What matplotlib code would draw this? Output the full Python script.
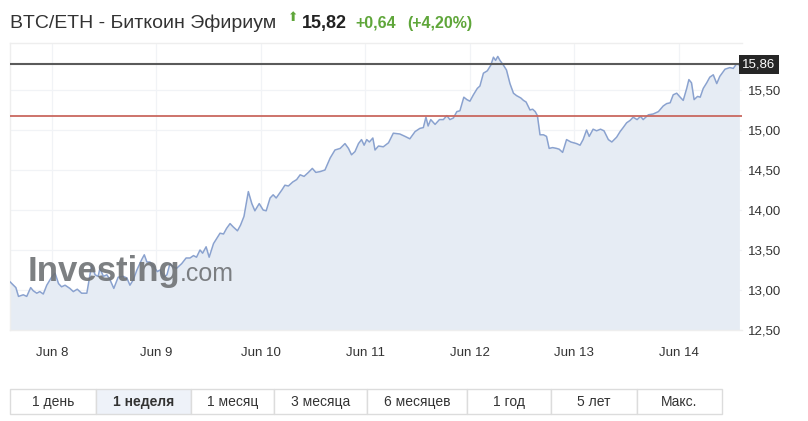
import numpy as np
import matplotlib
matplotlib.use("Agg")
import matplotlib.pyplot as plt
from matplotlib.patches import Rectangle
from matplotlib.transforms import blended_transform_factory

plt.rcParams['font.family'] = ['Liberation Sans', 'DejaVu Sans']

# hours since Jun 8 00:00 and BTC/ETH price
hours = [-9.6, -8.3, -7.7, -6.6, -5.8, -4.9, -4.3, -3.5, -2.8, -2.0,
         -1.2, -0.1, 0.7, 1.5, 2.2, 3.0, 4.1, 4.9, 5.8, 6.8,
         8.0, 9.1, 9.9, 10.6, 11.0, 11.8, 12.6, 13.3, 14.2, 15.2,
         16.4, 17.2, 17.9, 18.7, 19.5, 20.6, 21.2, 21.8, 22.5, 23.4,
         24.2, 24.8, 25.7, 26.4, 27.1, 27.9, 28.6, 29.8, 30.8, 31.7,
         32.5, 33.2, 34.0, 34.6, 35.4, 36.1, 37.1, 38.6, 39.4, 40.1,
         40.9, 41.6, 42.6, 43.3, 44.1, 45.1, 45.9, 46.6, 47.6, 48.5,
         49.2, 50.1, 50.8, 51.5, 52.8, 53.5, 54.3, 55.3, 56.2, 57.0,
         57.9, 58.9, 59.8, 60.6, 61.6, 62.7, 63.9, 65.0, 66.2, 67.3,
         68.1, 68.8, 69.6, 70.4, 71.1, 71.7, 72.3, 72.9, 73.7, 74.2,
         75.0, 76.1, 77.3, 78.4, 79.9, 81.1, 82.2, 83.4, 84.5, 85.3,
         85.9, 86.4, 87.0, 88.0, 89.0, 89.9, 90.7, 91.4, 92.2, 93.0,
         93.7, 94.6, 95.3, 96.0, 96.8, 97.7, 98.3, 99.1, 100.0, 100.8,
         101.4, 101.9, 102.4, 102.9, 103.7, 104.4, 105.2, 106.0, 106.7, 107.7,
         108.3, 108.9, 109.8, 110.4, 111.0, 111.5, 112.1, 112.9, 113.6, 114.2,
         115.0, 115.9, 116.5, 117.3, 118.2, 119.2, 119.9, 120.5, 121.3, 122.0,
         122.8, 123.4, 124.3, 125.1, 126.0, 126.8, 127.8, 128.6, 129.7, 130.5,
         131.2, 132.0, 132.8, 133.5, 134.4, 135.2, 135.8, 137.0, 138.1, 139.3,
         140.4, 141.2, 142.0, 142.7, 143.5, 144.3, 145.0, 145.8, 146.3, 146.9,
         147.5, 148.3, 148.9, 149.6, 150.4, 151.1, 151.9, 152.7, 153.4, 154.6,
         155.7, 156.5, 157.3, 157.9]

prices = [13.10, 13.03, 12.92, 12.94, 12.92, 13.03, 12.99, 12.96, 12.98, 12.95,
          13.06, 13.16, 13.21, 13.08, 13.04, 13.06, 13.02, 12.98, 13.01, 12.96,
          12.96, 13.31, 13.19, 13.17, 13.27, 13.17, 13.19, 13.13, 13.02, 13.16,
          13.17, 13.15, 13.06, 13.13, 13.25, 13.38, 13.44, 13.35, 13.35, 13.29,
          13.23, 13.25, 13.16, 13.19, 13.33, 13.29, 13.27, 13.33, 13.40, 13.40,
          13.43, 13.41, 13.50, 13.46, 13.54, 13.41, 13.58, 13.71, 13.70, 13.77,
          13.83, 13.79, 13.74, 13.81, 13.92, 14.23, 14.08, 13.99, 14.08, 14.00,
          13.99, 14.15, 14.19, 14.15, 14.25, 14.31, 14.30, 14.35, 14.38, 14.44,
          14.42, 14.47, 14.52, 14.47, 14.48, 14.50, 14.65, 14.75, 14.77, 14.83,
          14.77, 14.69, 14.73, 14.83, 14.88, 14.81, 14.88, 14.85, 14.90, 14.75,
          14.80, 14.79, 14.84, 14.96, 14.95, 14.92, 14.89, 14.98, 15.02, 15.03,
          15.16, 15.05, 15.13, 15.07, 15.13, 15.13, 15.18, 15.13, 15.15, 15.23,
          15.24, 15.41, 15.38, 15.36, 15.44, 15.52, 15.55, 15.71, 15.74, 15.81,
          15.91, 15.87, 15.92, 15.87, 15.81, 15.75, 15.58, 15.46, 15.43, 15.40,
          15.37, 15.35, 15.25, 15.26, 15.23, 15.18, 14.94, 14.94, 14.92, 14.77,
          14.78, 14.77, 14.76, 14.72, 14.88, 14.85, 14.84, 14.83, 14.81, 14.88,
          15.00, 14.92, 15.01, 14.99, 15.01, 14.99, 14.88, 14.85, 14.91, 14.98,
          15.03, 15.09, 15.12, 15.16, 15.13, 15.17, 15.13, 15.19, 15.20, 15.23,
          15.30, 15.33, 15.34, 15.44, 15.46, 15.41, 15.37, 15.52, 15.63, 15.59,
          15.38, 15.42, 15.41, 15.52, 15.59, 15.66, 15.69, 15.58, 15.67, 15.76,
          15.78, 15.77, 15.83, 15.81]

day_labels = ['Jun 8', 'Jun 9', 'Jun 10', 'Jun 11', 'Jun 12', 'Jun 13', 'Jun 14']
y_ticks = [12.5, 13.0, 13.5, 14.0, 14.5, 15.0, 15.5]
prev_close = 15.18
last_price = 15.82
last_label = '15,86'
title = 'BTC/ETH - Биткоин Эфириум'
change = '+0,64'
change_pct = '(+4,20%)'
price_text = '15,82'
buttons = ['1 день', '1 неделя', '1 месяц', '3 месяца', '6 месяцев', '1 год', '5 лет', 'Макс.']
selected = '1 неделя'

W, H = 808, 421
fig = plt.figure(figsize=(W / 100, H / 100), dpi=100)
fig.patch.set_facecolor('white')

# main chart area (pixel box 10..742 x 43..330)
ax = fig.add_axes([10 / W, 1 - 330 / H, 732 / W, 287 / H])
ax.set_xlim(-9.65, 158.5)
ax.set_ylim(12.5, 12.5 + 287 / 80)

ax.fill_between(hours, prices, 12.5, color='#e6ecf4', lw=0, zorder=1)
ax.plot(hours, prices, color='#8aa2cf', lw=1.1, zorder=3)

ax.axhline(prev_close, color='#c9685f', lw=1.3, zorder=4)
ax.axhline(last_price, color='#5a5a5a', lw=1.5, zorder=4)

ax.set_yticks(y_ticks)
ax.set_yticklabels([f'{v:.2f}'.replace('.', ',') for v in y_ticks])
ax.yaxis.tick_right()
ax.set_xticks([24 * i for i in range(len(day_labels))])
ax.set_xticklabels(day_labels)
ax.tick_params(axis='both', length=0, labelsize=9.5, colors='#333333')
ax.tick_params(axis='x', pad=12)
ax.tick_params(axis='y', pad=4)
ax.grid(True, color='#f1f3f6', lw=0.9, zorder=0)
ax.set_axisbelow(True)
for s in ax.spines.values():
    s.set_color('#eeeeee')
    s.set_linewidth(1)
ax.spines['right'].set_visible(False)

trans = blended_transform_factory(ax.transAxes, ax.transData)
ax.text(1.0, last_price, last_label, transform=trans, ha='left', va='center',
        color='white', fontsize=9.5, zorder=6, clip_on=False,
        bbox=dict(boxstyle='square,pad=0.25', fc='#262626', ec='none'))

# watermark
ax.text(0.024, 0.17, 'Investing', transform=ax.transAxes, fontsize=25,
        fontweight='bold', color='#6f7275', alpha=0.9, zorder=5)
ax.text(0.232, 0.17, '.com', transform=ax.transAxes, fontsize=18,
        color='#6f7275', alpha=0.9, zorder=5)

# header
fig.text(10 / W, 1 - 28 / H, title, fontsize=14, color='#333333')
fig.text(293 / W, 1 - 21 / H, '⬆', fontsize=9, color='#5fa63a',
         family=['DejaVu Sans'], ha='center')
fig.text(302 / W, 1 - 28 / H, price_text, fontsize=13, fontweight='bold', color='#222222')
fig.text(355 / W, 1 - 28 / H, change, fontsize=11.5, fontweight='bold', color='#5fa63a')
fig.text(407 / W, 1 - 28 / H, change_pct, fontsize=11.5, fontweight='bold', color='#5fa63a')

# period buttons
ui = fig.add_axes([0, 0, 1, 1], facecolor='none')
ui.set_xlim(0, W)
ui.set_ylim(H, 0)
ui.axis('off')
edges = [10, 96, 191, 274, 367, 467, 551, 637, 722]
for i, name in enumerate(buttons):
    x0, x1 = edges[i], edges[i + 1]
    fc = '#eef2f9' if name == selected else 'white'
    ui.add_patch(Rectangle((x0, 389), x1 - x0, 25, fc=fc, ec='#dcdcdc', lw=1))
    ui.text((x0 + x1) / 2, 402, name, ha='center', va='center', fontsize=10,
            color='#333333', fontweight='bold' if name == selected else 'normal')

fig.savefig('out.png', dpi=100)
